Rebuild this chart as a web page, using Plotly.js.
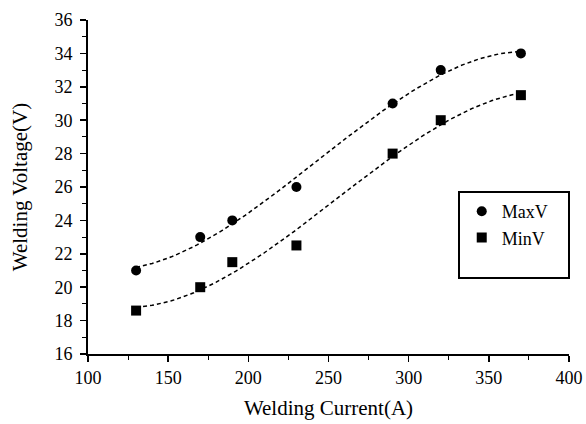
<!DOCTYPE html>
<html><head><meta charset="utf-8">
<script src="https://cdn.plot.ly/plotly-3.0.1.min.js"></script>
<style>html,body{margin:0;padding:0;background:#fff}#chart{width:586px;height:424px}</style>
</head><body><div id="chart"></div>
<script>
const current = [130, 170, 190, 230, 290, 320, 370];
const maxV = [21, 23, 24, 26, 31, 33, 34];
const minV = [18.6, 20, 21.5, 22.5, 28, 30, 31.5];
const xTicks = [100, 150, 200, 250, 300, 350, 400];
const yTicks = [16, 18, 20, 22, 24, 26, 28, 30, 32, 34, 36];

// cubic least-squares trend line computed from the data
function polyfit(xs, ys, deg) {
  const n = deg + 1;
  const c = xs.map(x => (x - 250) / 100);
  const A = [], b = [];
  for (let i = 0; i < n; i++) {
    A.push([]);
    for (let j = 0; j < n; j++) A[i].push(c.reduce((s, x) => s + Math.pow(x, i + j), 0));
    b.push(c.reduce((s, x, k) => s + Math.pow(x, i) * ys[k], 0));
  }
  for (let i = 0; i < n; i++) {
    let p = i;
    for (let r = i + 1; r < n; r++) if (Math.abs(A[r][i]) > Math.abs(A[p][i])) p = r;
    [A[i], A[p]] = [A[p], A[i]]; [b[i], b[p]] = [b[p], b[i]];
    for (let r = i + 1; r < n; r++) {
      const f = A[r][i] / A[i][i];
      for (let k = i; k < n; k++) A[r][k] -= f * A[i][k];
      b[r] -= f * b[i];
    }
  }
  const co = new Array(n).fill(0);
  for (let i = n - 1; i >= 0; i--) {
    let s = b[i];
    for (let k = i + 1; k < n; k++) s -= A[i][k] * co[k];
    co[i] = s / A[i][i];
  }
  return x => co.reduce((s, a, i) => s + a * Math.pow((x - 250) / 100, i), 0);
}
function fitLine(xs, ys) {
  const f = polyfit(xs, ys, 3);
  const lo = Math.min(...xs), hi = Math.max(...xs);
  const fx = [], fy = [];
  for (let k = 0; k <= 120; k++) { const x = lo + (hi - lo) * k / 120; fx.push(x); fy.push(f(x)); }
  return {fx, fy};
}
const f1 = fitLine(current, maxV), f2 = fitLine(current, minV);
const fam = 'Liberation Serif';
const F = s => ({family: fam, size: s, color: '#000'});
const traces = [
  {x: f1.fx, y: f1.fy, mode: 'lines', line: {color: '#000', width: 1.5, dash: '4px,3px'}, showlegend: false, hoverinfo: 'skip'},
  {x: f2.fx, y: f2.fy, mode: 'lines', line: {color: '#000', width: 1.5, dash: '4px,3px'}, showlegend: false, hoverinfo: 'skip'},
  {x: current, y: maxV, mode: 'markers', name: 'MaxV', marker: {symbol: 'circle', size: 10, color: '#000'}},
  {x: current, y: minV, mode: 'markers', name: 'MinV', marker: {symbol: 'square', size: 10, color: '#000'}}
];
const layout = {
  width: 586, height: 424,
  margin: {l: 88, r: 17, t: 20, b: 70},
  paper_bgcolor: '#fff', plot_bgcolor: '#fff',
  font: F(17),
  showlegend: true,
  legend: {x: 0.777, y: 0.482, xanchor: 'left', yanchor: 'top', bgcolor: 'rgba(0,0,0,0)', borderwidth: 0,
    font: F(18)},
  xaxis: {range: [100, 400], tickvals: xTicks, ticktext: xTicks.map(String), showgrid: false, zeroline: false,
    showline: true, linecolor: '#000', linewidth: 2, ticks: 'outside', ticklen: 6, tickwidth: 1.5, tickcolor: '#000',
    minor: {dtick: 25, tick0: 100, ticks: 'outside', ticklen: 4, tickwidth: 1, tickcolor: '#000', showgrid: false},
    tickfont: F(18),
    title: {text: 'Welding Current(A)', font: F(21), standoff: 14}},
  yaxis: {range: [16, 36], tickvals: yTicks, ticktext: yTicks.map(String), showgrid: false, zeroline: false,
    showline: true, linecolor: '#000', linewidth: 2, ticks: 'outside', ticklen: 6, tickwidth: 1.5, tickcolor: '#000',
    ticklabelstandoff: 4,
    minor: {dtick: 1, tick0: 16, ticks: 'outside', ticklen: 4, tickwidth: 1, tickcolor: '#000', showgrid: false},
    tickfont: F(18),
    title: {text: 'Welding Voltage(V)', font: F(21), standoff: 21}},
  shapes: [{type: 'rect', xref: 'paper', yref: 'paper', x0: (459 - 88) / 481, x1: (569 - 88) / 481,
    y0: (354 - 278) / 334, y1: (354 - 192) / 334, line: {color: '#000', width: 2}, fillcolor: 'rgba(0,0,0,0)'}]
};
Plotly.newPlot('chart', traces, layout, {staticPlot: true, displayModeBar: false});
</script></body></html>
